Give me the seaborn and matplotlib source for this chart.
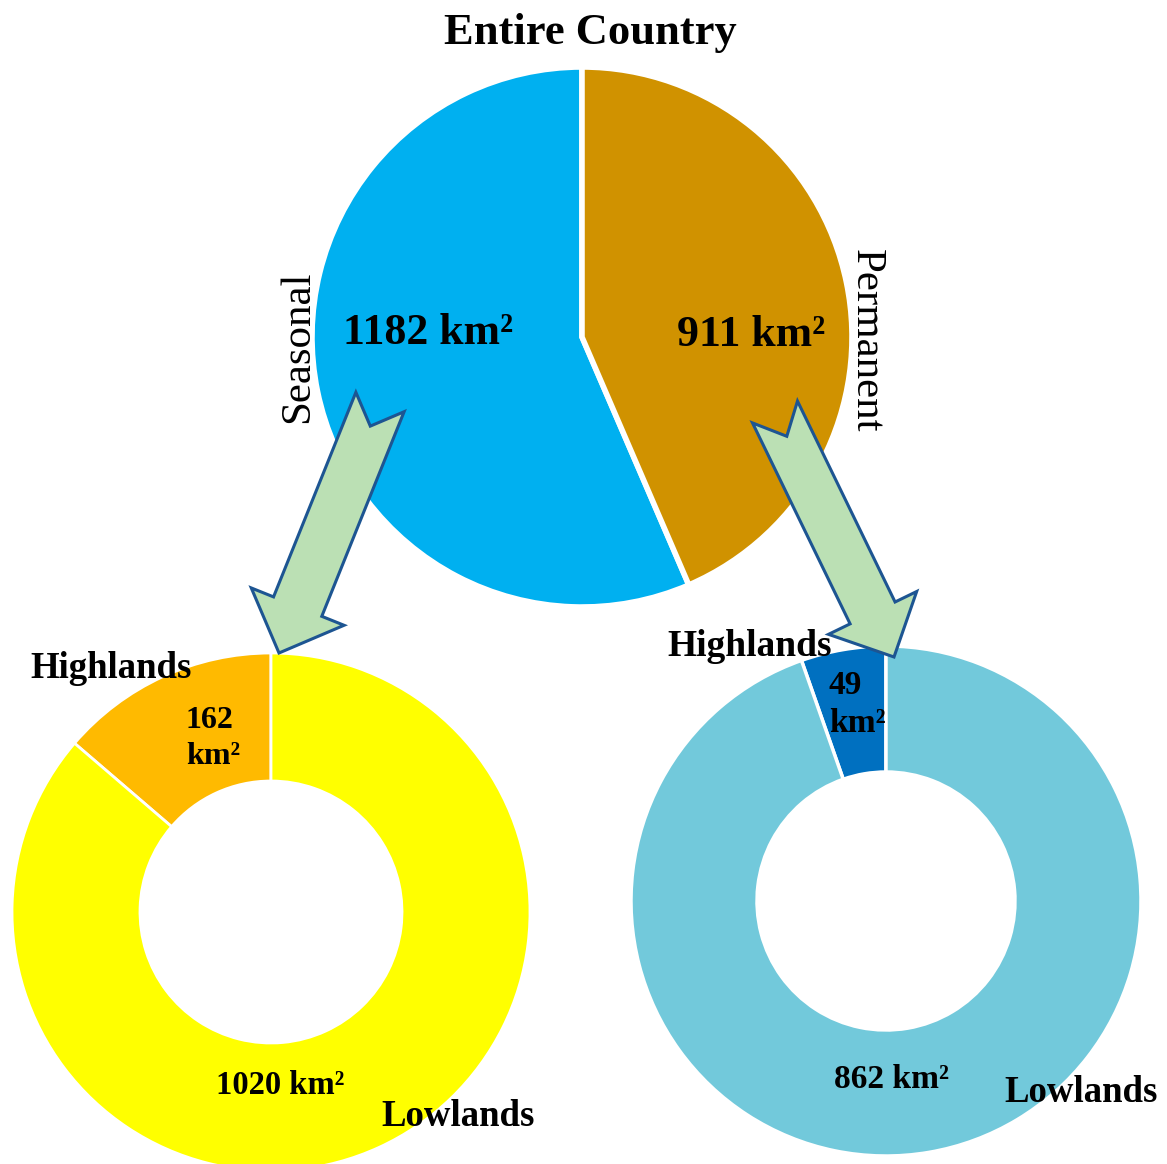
import numpy as np
import matplotlib
matplotlib.use("Agg")
import matplotlib.pyplot as plt
from matplotlib.patches import Polygon
import seaborn as sns

# ---- data -------------------------------------------------------------
country_labels = ["Seasonal", "Permanent"]
country_values = [1182, 911]

seasonal_labels = ["Highlands", "Lowlands"]
seasonal_values = [162, 1020]

permanent_labels = ["Highlands", "Lowlands"]
permanent_values = [49, 862]

country_colors = ["#00B0F0", "#D09200"]
seasonal_colors = ["#FFBA00", "#FFFF00"]
permanent_colors = ["#0070C0", "#72C9DB"]

sns.set_theme(style="white")
plt.rcParams["font.family"] = ["Liberation Serif", "DejaVu Serif"]

W, H = 1167, 1164
fig = plt.figure(figsize=(W / 100, H / 100), dpi=100)
ax = fig.add_axes([0, 0, 1, 1])


def px(x, y):
    """Convert top-left based pixel position to axis coordinates."""
    return (x, H - y)


# ---- main pie ---------------------------------------------------------
ax.pie(country_values, colors=country_colors, startangle=90, counterclock=True,
       center=px(582, 337), radius=270,
       wedgeprops=dict(edgecolor="white", linewidth=4), frame=True)

# ---- donuts -----------------------------------------------------------
ax.pie(seasonal_values, colors=seasonal_colors, startangle=90, counterclock=True,
       center=px(271, 912), radius=259,
       wedgeprops=dict(width=128, edgecolor="white", linewidth=2), frame=True)
ax.pie(permanent_values, colors=permanent_colors, startangle=90, counterclock=True,
       center=px(886, 901), radius=255,
       wedgeprops=dict(width=126, edgecolor="white", linewidth=2.5), frame=True)


# ---- notched arrows ---------------------------------------------------
def notched_arrow(ax, tail, tip, half_w=26, head_half=50, head_len=50, notch=26):
    t = np.array(px(*tail), float)
    p = np.array(px(*tip), float)
    u = (p - t) / np.linalg.norm(p - t)
    n = np.array([-u[1], u[0]])
    base = p - u * head_len
    pts = [t + n * half_w, t + u * notch, t - n * half_w,
           base - n * half_w, base - n * head_half, p,
           base + n * head_half, base + n * half_w]
    ax.add_patch(Polygon(pts, closed=True, facecolor="#BBE0B4",
                         edgecolor="#1D5592", linewidth=2.2, zorder=5,
                         joinstyle="miter"))


notched_arrow(ax, (380, 402), (279, 653))
notched_arrow(ax, (775, 412), (894, 657), half_w=25, head_half=49, head_len=49, notch=27)

# ---- text -------------------------------------------------------------
bold = dict(fontweight="bold", ha="center", va="center", color="black", zorder=6)
ax.text(*px(590, 33), "Entire Country", fontsize=32, **bold)
ax.text(*px(428, 333), f"{country_values[0]} km²", fontsize=31.5, **bold)
ax.text(*px(751, 335), f"{country_values[1]} km²", fontsize=31.5, **bold)

ax.text(*px(298, 347), country_labels[0], fontsize=31, rotation=90,
        ha="center", va="center", color="black", zorder=6)
ax.text(*px(866, 341), country_labels[1], fontsize=31, rotation=-90,
        ha="center", va="center", color="black", zorder=6)

ax.text(*px(111, 669), seasonal_labels[0], fontsize=26.5, **bold)
ax.text(*px(209, 720), f"{seasonal_values[0]}", fontsize=23, **bold)
ax.text(*px(213, 756), "km²", fontsize=23, **bold)
ax.text(*px(280, 1086), f"{seasonal_values[1]} km²", fontsize=23.5, **bold)
ax.text(*px(458, 1117), seasonal_labels[1], fontsize=26.5, **bold)

ax.text(*px(750, 647), permanent_labels[0], fontsize=27, **bold)
ax.text(*px(845, 686), f"{permanent_values[0]}", fontsize=24, **bold)
ax.text(*px(857, 723), "km²", fontsize=24, **bold)
ax.text(*px(891, 1080), f"{permanent_values[1]} km²", fontsize=24, **bold)
ax.text(*px(1081, 1092), permanent_labels[1], fontsize=26.5, **bold)

ax.set_xlim(0, W)
ax.set_ylim(0, H)
ax.set_aspect("auto")
ax.axis("off")

fig.savefig("out.png", dpi=100, facecolor="white")
